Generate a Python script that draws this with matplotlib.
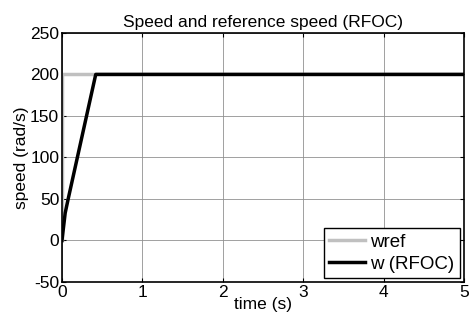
import matplotlib.pyplot as plt

plt.rcParams['font.family'] = ['Liberation Sans', 'DejaVu Sans']
plt.rcParams['font.size'] = 12.5
plt.rcParams['axes.unicode_minus'] = False

# reference speed (step to 200 rad/s at t=0)
t_ref = [0.0, 0.0, 5.0]
w_ref = [0.0, 200.0, 200.0]

# rotor speed under RFOC
t_w = [0.0, 0.04, 0.075, 0.42, 5.0]
w_rfoc = [0.0, 33.0, 49.0, 200.0, 200.0]

xticks = [0, 1, 2, 3, 4, 5]
yticks = [-50, 0, 50, 100, 150, 200, 250]

fig = plt.figure(figsize=(4.73, 3.29), dpi=100)
ax = fig.add_axes([0.131, 0.143, 0.85, 0.757])

ax.plot(t_ref, w_ref, color='#c0c0c0', lw=2.5, label='wref')
ax.plot(t_w, w_rfoc, color='black', lw=2.5, label='w (RFOC)')

ax.set_xlim(0, 5)
ax.set_ylim(-50, 250)
ax.set_xticks(xticks)
ax.set_yticks(yticks)
ax.grid(True, color='#909090', lw=0.6)
ax.tick_params(direction='in', top=True, right=True, length=3)
ax.tick_params(axis='x', pad=2)
ax.tick_params(axis='y', pad=2)
for s in ax.spines.values():
    s.set_linewidth(1.2)

ax.set_title('Speed and reference speed (RFOC)', fontsize=12.5, pad=4)
ax.set_xlabel('time (s)', labelpad=-2)
ax.set_ylabel('speed (rad/s)', labelpad=1)

leg = ax.legend(loc='lower right', fancybox=False, framealpha=1,
                edgecolor='black', borderaxespad=0.2, handlelength=1.9,
                borderpad=0.3, labelspacing=0.25, handletextpad=0.3,
                fontsize=13.5)
leg.get_frame().set_linewidth(1.0)

fig.savefig('out.png', dpi=100)
